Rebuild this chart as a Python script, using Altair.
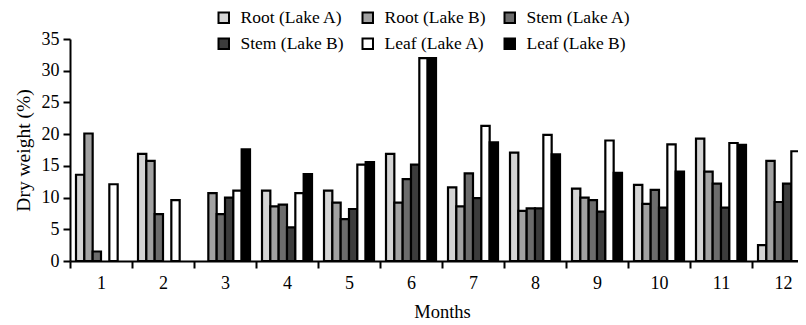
import altair as alt
import pandas as pd

months = [str(m) for m in range(1, 13)]
series = ["Root (Lake A)", "Root (Lake B)", "Stem (Lake A)",
          "Stem (Lake B)", "Leaf (Lake A)", "Leaf (Lake B)"]
root_a = [13.6, 16.9, None, 11.1, 11.1, 16.9, 11.6, 17.1, 11.4, 12.0, 19.3, 2.5]
root_b = [20.1, 15.8, 10.7, 8.6, 9.2, 9.2, 8.6, 7.9, 10.0, 9.0, 14.1, 15.8]
stem_a = [1.5, 7.4, 7.4, 8.9, 6.6, 12.9, 13.8, 8.3, 9.6, 11.2, 12.2, 9.3]
stem_b = [None, None, 10.0, 5.3, 8.2, 15.2, 9.9, 8.3, 7.8, 8.4, 8.4, 12.2]
leaf_a = [12.1, 9.6, 11.1, 10.7, 15.2, 32.0, 21.3, 19.9, 19.0, 18.4, 18.6, 17.3]
leaf_b = [None, None, 17.6, 13.7, 15.6, 32.0, 18.7, 16.8, 13.9, 14.1, 18.3, 18.6]
colors = ["#d4d4d4", "#a2a2a2", "#6c6c6c", "#3c3c3c", "#ffffff", "#000000"]

rows = []
for s, vals in zip(series, [root_a, root_b, stem_a, stem_b, leaf_a, leaf_b]):
    for m, v in zip(months, vals):
        if v is not None:
            rows.append({"Month": m, "Series": s, "Value": v})
df = pd.DataFrame(rows)

FONT = "Liberation Serif"

chart = alt.Chart(df).mark_bar(stroke="black", strokeWidth=2.2).encode(
    x=alt.X("Month:O", sort=months,
            scale=alt.Scale(domain=months, paddingInner=0, paddingOuter=0),
            axis=alt.Axis(title="Months", labelAngle=0, tickBand="extent",
                          domainColor="black", domainWidth=2, tickColor="black",
                          tickWidth=2, tickSize=7, labelPadding=6,
                          labelFont=FONT, labelFontSize=18, labelColor="black",
                          titleFont=FONT, titleFontSize=18.5, titleFontWeight="normal",
                          titleColor="black", titlePadding=10)),
    xOffset=alt.XOffset("Series:N", sort=series,
                        scale=alt.Scale(domain=series, paddingInner=0, paddingOuter=0.72)),
    y=alt.Y("Value:Q",
            scale=alt.Scale(domain=[0, 35], nice=False),
            axis=alt.Axis(title="Dry weight (%)", values=[0, 5, 10, 15, 20, 25, 30, 35],
                          grid=False, domainColor="black", domainWidth=2,
                          tickColor="black", tickWidth=2, tickSize=7, labelPadding=4,
                          labelFont=FONT, labelFontSize=18, labelColor="black",
                          titleFont=FONT, titleFontSize=19.5, titleFontWeight="normal",
                          titleColor="black", titlePadding=8)),
    fill=alt.Fill("Series:N", sort=series,
                  scale=alt.Scale(domain=series, range=colors),
                  legend=alt.Legend(title=None, orient="none", legendX=145, legendY=-30,
                                    direction="horizontal", columns=3,
                                    symbolType="square", symbolSize=110,
                                    symbolStrokeColor="black", symbolStrokeWidth=2,
                                    labelFont=FONT, labelFontSize=17.5, labelColor="black",
                                    rowPadding=7, columnPadding=14, labelOffset=8,
                                    labelLimit=300)),
).properties(
    width=744, height=222,
    autosize=alt.AutoSizeParams(type="none"),
    padding={"left": 62, "top": 31, "right": -16, "bottom": 62},
).configure_view(stroke=None)

chart.save("out.html", embed_options={"renderer": "svg", "actions": False})
